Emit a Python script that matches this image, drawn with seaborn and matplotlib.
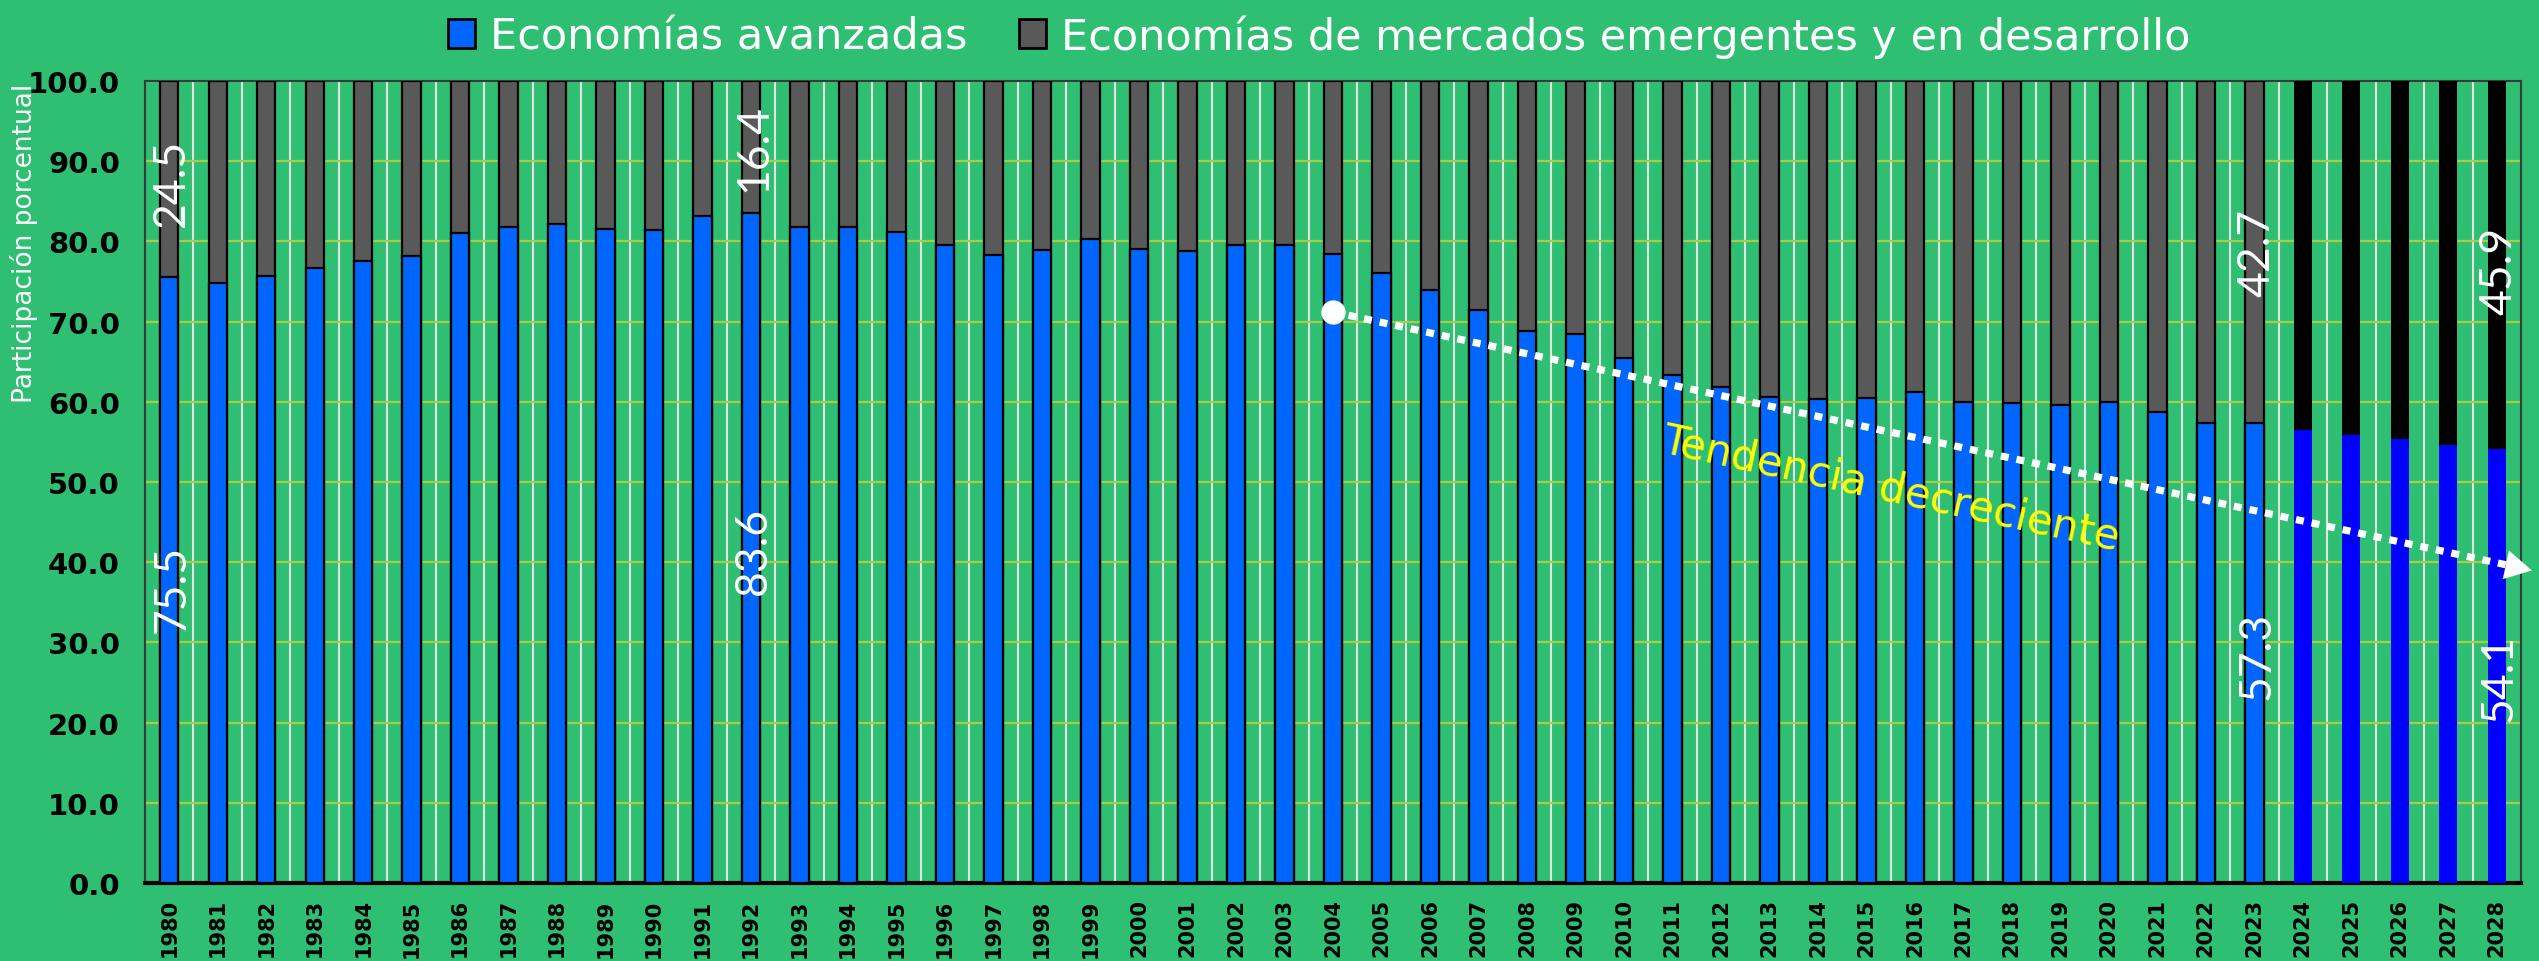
import numpy as np
import matplotlib
matplotlib.use("Agg")
import matplotlib.pyplot as plt
from matplotlib.patches import Patch
import seaborn as sns

years = ["1980", "1981", "1982", "1983", "1984", "1985", "1986", "1987", "1988", "1989",
         "1990", "1991", "1992", "1993", "1994", "1995", "1996", "1997", "1998", "1999",
         "2000", "2001", "2002", "2003", "2004", "2005", "2006", "2007", "2008", "2009",
         "2010", "2011", "2012", "2013", "2014", "2015", "2016", "2017", "2018", "2019",
         "2020", "2021", "2022", "2023", "2024", "2025", "2026", "2027", "2028"]

# participación de economías avanzadas (%)
advanced = [75.5, 74.8, 75.7, 76.7, 77.5, 78.2, 81.0, 81.8, 82.2, 81.5,
            81.4, 83.2, 83.6, 81.8, 81.8, 81.2, 79.6, 78.3, 78.9, 80.3,
            79.0, 78.8, 79.6, 79.5, 78.4, 76.1, 73.9, 71.5, 68.8, 68.5,
            65.4, 63.3, 61.8, 60.6, 60.4, 60.5, 61.2, 60.0, 59.8, 59.6,
            60.0, 58.7, 57.4, 57.3, 56.5, 55.9, 55.3, 54.6, 54.1]
emerging = list(np.round(100 - np.array(advanced), 1))
forecast_years = ["2024", "2025", "2026", "2027", "2028"]
labeled_years = ["1980", "1992", "2023", "2028"]

series_names = ["Economías avanzadas",
                "Economías de mercados emergentes y en desarrollo"]

BG = "#2EBF73"
BLUE = "#0066FF"
GREY = "#595959"
BLUE_F = "#0000FF"
GREY_F = "#000000"

W, H = 2539, 962
fig = plt.figure(figsize=(W / 100, H / 100), dpi=100, facecolor=BG)
ax = fig.add_axes([145 / W, 1 - 884 / H, (2521 - 145) / W, (884 - 82) / H])
ax.set_facecolor(BG)

totals = [a + e for a, e in zip(advanced, emerging)]
sns.barplot(x=years, y=totals, color=GREY, width=0.38, errorbar=None, saturation=1,
            edgecolor="black", linewidth=1.6, ax=ax, zorder=3)
sns.barplot(x=years, y=advanced, color=BLUE, width=0.38, errorbar=None, saturation=1,
            edgecolor="black", linewidth=1.6, ax=ax, zorder=3)

n = len(years)
for i, yr in enumerate(years):
    if yr in forecast_years:
        ax.patches[i].set_facecolor(GREY_F)
        ax.patches[i].set_linewidth(0)
        ax.patches[n + i].set_facecolor(BLUE_F)
        ax.patches[n + i].set_linewidth(0)

ax.set_xlim(-0.5, n - 0.5)
ax.set_ylim(0, 100)
ax.set_yticks(np.arange(0, 101, 10))
ax.set_yticklabels([f"{v:.1f}" for v in np.arange(0, 101, 10)],
                   fontfamily="Liberation Sans Narrow", fontweight="bold", fontsize=21)
ax.set_xticks(range(n))
ax.set_xticklabels(years, rotation=90, fontweight="heavy", fontsize=15,
                   fontfamily="DejaVu Sans")
ax.set_xticks(np.arange(0.5, n - 1, 1), minor=True)
ax.tick_params(axis="both", which="both", length=0)
ax.tick_params(axis="y", pad=18)
ax.tick_params(axis="x", pad=11)
ax.set_xlabel("")
ax.set_ylabel("")

ax.set_axisbelow(True)
ax.yaxis.grid(True, color="#A9CC45", linewidth=1.6, zorder=0)
ax.xaxis.grid(True, which="minor", color="#E2E2E2", linewidth=1.5, zorder=0)
ax.xaxis.grid(False, which="major")
for side in ["top", "right", "left"]:
    ax.spines[side].set_color("#3A3A3A")
    ax.spines[side].set_linewidth(1.5)
ax.spines["bottom"].set_color("black")
ax.spines["bottom"].set_linewidth(3)

# etiquetas de valores
adv_label_y = [36.8, 41.5, 28.4, 25.7]
emg_label_y = [87.4, 91.8, 78.7, 76.4]
for k, yr in enumerate(labeled_years):
    i = years.index(yr)
    ax.text(i + 0.05, adv_label_y[k], f"{advanced[i]:.1f}", rotation=90,
            ha="center", va="center", color="white", fontsize=32,
            fontfamily="Lato", zorder=5)
    ax.text(i + 0.05, emg_label_y[k], f"{emerging[i]:.1f}", rotation=90,
            ha="center", va="center", color="white", fontsize=32,
            fontfamily="Lato", zorder=5)

# línea de tendencia
x0, y0 = years.index("2004"), 71.2
x1, y1 = 48.78, 38.9
ax.plot([x0, x1 - 0.3], [y0, y1 + 0.4], color="white", linewidth=5.2,
        dashes=(1.1, 1.1), dash_capstyle="butt", zorder=6, clip_on=False)
ax.plot([x0], [y0], "o", color="white", markersize=16.5, zorder=7)
ax.annotate("", xy=(x1, y1), xytext=(x1 - 0.4, y1 + 0.52),
            arrowprops=dict(arrowstyle="-|>,head_length=1.0,head_width=0.55",
                            color="white", lw=0.1, mutation_scale=19),
            annotation_clip=False, zorder=7)
ax.text(35.5, 49.3, "Tendencia decreciente", rotation=-12.2, color="#FFFF00",
        fontsize=30, ha="center", va="center", fontfamily="DejaVu Sans", zorder=6,
        rotation_mode="anchor")

fig.text(24 / W, 1 - 243 / H, "Participación porcentual", rotation=90,
         ha="center", va="center", color="white", fontsize=19,
         fontfamily="DejaVu Sans")

handles = [Patch(facecolor=BLUE, edgecolor="black", linewidth=2),
           Patch(facecolor=GREY, edgecolor="black", linewidth=2)]
fig.legend(handles, series_names, loc="center", bbox_to_anchor=(0.5195, 0.9615),
           ncol=2, frameon=False, labelcolor="white",
           handlelength=0.62, handleheight=0.65, handletextpad=0.35,
           columnspacing=1.2, prop={"family": "DejaVu Sans", "size": 31})

fig.savefig("out.png", dpi=100, facecolor=BG)
